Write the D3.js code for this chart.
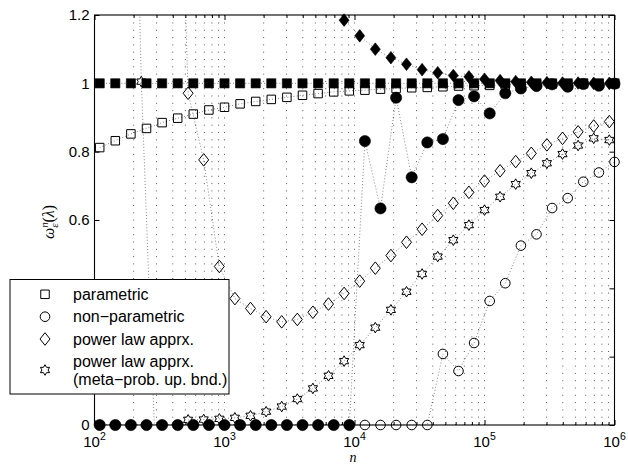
<!DOCTYPE html>
<html><head><meta charset="utf-8">
<script src="https://cdn.jsdelivr.net/npm/d3@7/dist/d3.min.js"></script>
<style>body{margin:0;background:#fff} svg{display:block}</style>
</head><body><svg id="c" width="628" height="466"></svg>
<script>
// sample sizes (log10 n) — two grids used by the series
const expA = [2.04,2.16,2.28,2.40,2.52,2.64,2.76,2.88,3.00,3.12,3.24,3.36,3.48,3.60,3.72,3.84,3.96,4.08,4.20,4.32,4.44,4.56,4.68,4.80,4.92,5.04,5.16,5.28,5.40,5.52,5.64,5.76,5.88,6.00];
const expB = [2.00,2.12,2.24,2.36,2.48,2.60,2.72,2.84,2.96,3.08,3.20,3.32,3.44,3.56,3.68,3.80,3.92,4.04,4.16,4.28,4.40,4.52,4.64,4.76,4.88,5.00,5.12,5.24,5.36,5.48,5.60,5.72,5.84,5.96];

// series values
const parametric = [0.812,0.832,0.852,0.868,0.885,0.898,0.910,0.922,0.930,0.940,0.947,0.953,0.959,0.965,0.970,0.975,0.978,0.980,0.983,0.985,0.987,0.988,0.990,0.992,0.993,0.994,0.995,0.996,0.997,0.998,0.998,0.999,0.999,0.999];
const parametricFilled = [1,1,1,1,1,1,1,1,1,1,1,1,1,1,1,1,1,1,1,1,1,1,1,1,1,1,1,1,1,1,1,1,1,1];
const nonParametric = [0,0,0,0,0,0,0,0,0,0,0,0,0,0,0,0,0,0,0,0,0,0,0.208,0.158,0.240,0.363,0.415,0.525,0.558,0.635,0.664,0.712,0.739,0.770];
const nonParametricFilled = [0,0,0,0,0,0,0,0,0,0,0,0,0,0,0,0,0,0.831,0.634,0.958,0.725,0.827,0.837,0.951,0.962,0.912,0.971,0.985,0.992,0.997,0.990,0.998,0.993,0.999];
const powerLaw = [null,null,null,null,null,2.5,0.971,0.776,0.464,0.370,0.341,0.317,0.302,0.309,0.330,0.354,0.385,0.421,0.459,0.496,0.535,0.573,0.613,0.649,0.681,0.714,0.744,0.771,0.795,0.820,0.839,0.858,0.875,0.888];
const powerLawFilled = [null,null,null,null,null,null,null,null,null,null,null,null,null,null,null,null,1.185,1.139,1.100,1.075,1.056,1.040,1.031,1.023,1.019,1.012,1.008,1.005,1.003,1.002,1.001,1.001,1.000,1.000];
const powerLawMeta = [null,null,3.0,1.005,-0.2,-0.2,0.015,0.016,0.018,0.021,0.027,0.039,0.054,0.076,0.107,0.144,0.187,0.234,0.285,0.337,0.390,0.442,0.493,0.541,0.585,0.629,0.668,0.705,0.737,0.766,0.793,0.818,0.839,0.834];

const yTicks = [0,0.2,0.4,0.6,0.8,1,1.2];
const yTickLabels = ["0","0.2","0.4","0.6","0.8","1","1.2"];
const xMajorExp = [2,3,4,5,6];
const legendLabels = [["parametric"],["non\u2212parametric"],["power law apprx."],["power law apprx.","(meta\u2212prob. up. bnd.)"]];

const svg = d3.select("#c");
const L = 94.5, R = 614.5, T = 15, B = 425;
const x = d3.scaleLog().domain([1e2,1e6]).range([L,R]);
const y = d3.scaleLinear().domain([0,1.2]).range([B,T]);
const sans = "'Liberation Sans', Arial, Helvetica, sans-serif";
const serif = "'Liberation Serif', 'DejaVu Serif', serif";
const legBox = {x:10, y:279.5, w:219, h:114.5};

svg.append("rect").attr("width",628).attr("height",466).attr("fill","#fff");
svg.append("defs").append("clipPath").attr("id","clip").append("rect")
  .attr("x",L).attr("y",T).attr("width",R-L).attr("height",B-T);

// grid (vertical dotted, major + minor)
const gridVals = [];
for (let d=2; d<6; d++) for (let m=1; m<10; m++) gridVals.push(m*Math.pow(10,d));
svg.append("g").selectAll("line").data(gridVals.filter(v=>v>1e2)).join("line")
  .attr("x1",d=>x(d)).attr("x2",d=>x(d)).attr("y1",B).attr("y2",T)
  .attr("stroke","#111").attr("stroke-width",0.7).attr("stroke-dasharray","1,6.3");

// markers
function markerPath(shape){
  switch(shape){
    case "square": return "M-4.25,-4.25h8.5v8.5h-8.5Z";
    case "squareF": return "M-4.6,-4.6h9.2v9.2h-9.2Z";
    case "circle": return d3.arc()({innerRadius:0,outerRadius:4.8,startAngle:0,endAngle:2*Math.PI});
    case "circleF": return d3.arc()({innerRadius:0,outerRadius:5.6,startAngle:0,endAngle:2*Math.PI});
    case "diamond": return "M0,-6.3L5,0L0,6.3L-5,0Z";
    case "hex": {
      const Ro=5.3, Ri=Ro/Math.sqrt(3); const p=[];
      for(let j=0;j<6;j++){
        const a1=(-90+60*j)*Math.PI/180, a2=(-60+60*j)*Math.PI/180;
        p.push([Ro*Math.cos(a1),Ro*Math.sin(a1)]); p.push([Ri*Math.cos(a2),Ri*Math.sin(a2)]);
      }
      return "M"+p.map(q=>q[0].toFixed(2)+","+q[1].toFixed(2)).join("L")+"Z";
    }
  }
}

const series = [
  {exp:expA, vals:parametric, shape:"square", filled:false},
  {exp:expA, vals:parametricFilled, shape:"squareF", filled:true},
  {exp:expA, vals:nonParametric, shape:"circle", filled:false},
  {exp:expA, vals:nonParametricFilled, shape:"circleF", filled:true},
  {exp:expB, vals:powerLaw, shape:"diamond", filled:false},
  {exp:expB, vals:powerLawFilled, shape:"diamond", filled:true},
  {exp:expB, vals:powerLawMeta, shape:"hex", filled:false}
];

const lineGen = d3.line().defined(d=>d.v!=null).x(d=>x(d.n)).y(d=>y(d.v));
series.forEach(s=>{
  const pts = s.vals.map((v,i)=>({n:Math.pow(10,s.exp[i]), v:v}));
  svg.append("path").attr("clip-path","url(#clip)").attr("d",lineGen(pts))
    .attr("fill","none").attr("stroke","#222").attr("stroke-width",0.6).attr("stroke-dasharray","0.9,2.2");
  s.pts = pts;
});
series.forEach(s=>{
  svg.append("g").selectAll("path").data(s.pts.filter(d=>d.v!=null && d.v>=-0.001 && d.v<=1.201)).join("path")
    .attr("transform",d=>`translate(${x(d.n)},${y(d.v)})`)
    .attr("d",markerPath(s.shape))
    .attr("fill",s.filled?"#000":"none").attr("stroke","#000").attr("stroke-width",s.filled?0.6:1);
});

// axes
const axG = svg.append("g").attr("font-family",sans);
const yL = axG.append("g").attr("transform",`translate(${L},0)`)
  .call(d3.axisLeft(y).tickValues(yTicks).tickSize(-5).tickSizeOuter(0).tickPadding(5).tickFormat((d,i)=>yTickLabels[i]));
axG.append("g").attr("transform",`translate(${R},0)`)
  .call(d3.axisRight(y).tickValues(yTicks).tickSize(-5).tickSizeOuter(0).tickFormat(""));
const minorVals = gridVals.filter(v=>!xMajorExp.includes(Math.log10(v)));
const xMajor = xMajorExp.map(e=>Math.pow(10,e));
axG.append("g").attr("transform",`translate(0,${B})`)
  .call(d3.axisBottom(x).tickValues(xMajor).tickSize(-5).tickSizeOuter(0).tickFormat(""));
axG.append("g").attr("transform",`translate(0,${B})`)
  .call(d3.axisBottom(x).tickValues(minorVals).tickSize(-3).tickSizeOuter(0).tickFormat(""));
axG.append("g").attr("transform",`translate(0,${T})`)
  .call(d3.axisTop(x).tickValues(xMajor).tickSize(-5).tickSizeOuter(0).tickFormat(""));
axG.append("g").attr("transform",`translate(0,${T})`)
  .call(d3.axisTop(x).tickValues(minorVals).tickSize(-3).tickSizeOuter(0).tickFormat(""));
axG.selectAll(".domain").remove();
axG.selectAll(".tick line").attr("stroke","#000").attr("stroke-width",1);
yL.selectAll("text").attr("font-size",15).attr("fill","#000").attr("font-family",sans);
// labels hidden under the legend box (as in the reference) are not drawn
yL.selectAll(".tick").filter(d=>y(d)>legBox.y-6 && y(d)<legBox.y+legBox.h+6).select("text").remove();

// x tick labels 10^k
const xl = svg.append("g").attr("font-family",sans).attr("fill","#000");
xMajorExp.forEach(e=>{
  const t = xl.append("text").attr("x",x(Math.pow(10,e))).attr("y",447).attr("text-anchor","middle");
  t.append("tspan").attr("font-size",15).text("10");
  t.append("tspan").attr("font-size",10.5).attr("dy",-7).text(String(e));
});

// box
svg.append("rect").attr("x",L).attr("y",T).attr("width",R-L).attr("height",B-T)
  .attr("fill","none").attr("stroke","#000").attr("stroke-width",1.1);

// axis labels
svg.append("text").attr("x",353).attr("y",462.3).attr("text-anchor","middle")
  .attr("font-family",serif).attr("font-style","italic").attr("font-size",14).text("n");
const yl = svg.append("text").attr("transform","translate(54,222) rotate(-90)").attr("text-anchor","middle")
  .attr("font-family",serif).attr("font-size",16);
yl.append("tspan").attr("font-style","italic").text("\u03c9");
yl.append("tspan").attr("font-style","italic").attr("font-size",11).attr("dy",-6).text("n");
yl.append("tspan").attr("font-style","italic").attr("font-size",11).attr("dx",-5.5).attr("dy",10).text("\u03b5");
yl.append("tspan").attr("dy",-4).attr("dx",1).text("(");
yl.append("tspan").attr("font-style","italic").text("\u03bb");
yl.append("tspan").text(")");

// legend
const lg = svg.append("g");
lg.append("rect").attr("x",legBox.x).attr("y",legBox.y).attr("width",legBox.w).attr("height",legBox.h)
  .attr("fill","#fff").attr("stroke","#000").attr("stroke-width",1);
const legShapes = ["square","circle","diamond","hex"];
const legY = [294.3,316.7,339,370];
legendLabels.forEach((lines,i)=>{
  lg.append("path").attr("transform",`translate(45,${legY[i]})`).attr("d",markerPath(legShapes[i]))
    .attr("fill","none").attr("stroke","#000").attr("stroke-width",1);
  const t = lg.append("text").attr("font-family",sans).attr("font-size",16).attr("fill","#000");
  lines.forEach((ln,j)=>{
    const cy = lines.length===1 ? legY[i] : legY[i]-8.5+17.5*j;
    t.append("tspan").attr("x",73).attr("y",cy+5.6).text(ln);
  });
});
</script></body></html>
